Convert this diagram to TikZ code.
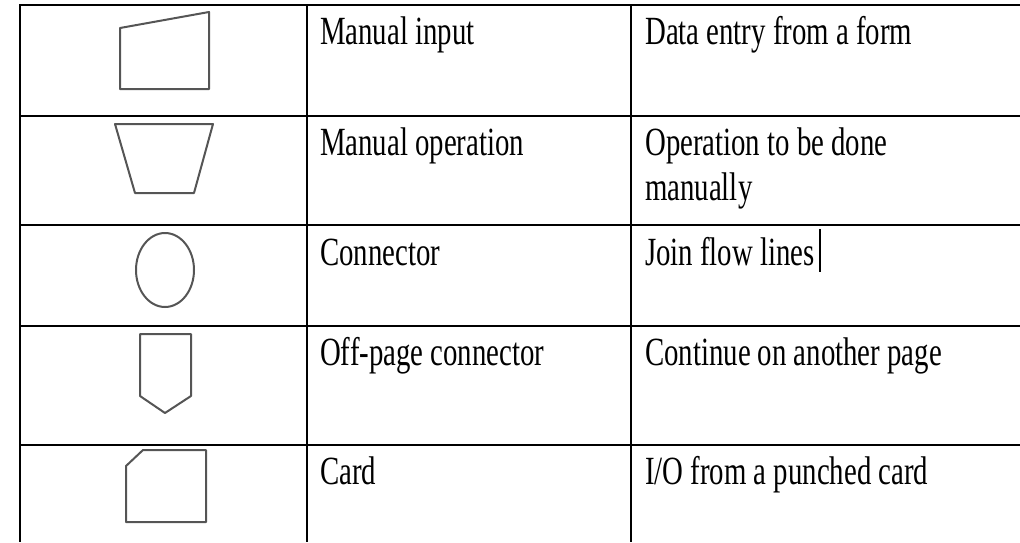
\documentclass[tikz,border=0pt]{standalone}
\usepackage{fontspec}
\setmainfont{Liberation Serif}[FakeStretch=0.72]
\begin{document}
\begin{tikzpicture}[x=1pt,y=-1pt,
  rule/.style={line width=1.8pt,black},
  toprule/.style={line width=2.6pt,black},
  vrule/.style={line width=1.6pt,black},
  symb/.style={line width=2pt,draw={rgb,255:red,85;green,85;blue,85},line join=round},
  cell/.style={anchor=base west,inner sep=0pt,font=\fontsize{40pt}{46pt}\selectfont}]
\useasboundingbox (0,0) rectangle (1020,542);
% table rules
\draw[toprule] (20,5) -- (1020,5);
\draw[rule] (20,116) -- (1020,116);
\draw[rule] (20,225) -- (1020,225);
\draw[rule] (20,326) -- (1020,326);
\draw[rule] (20,445) -- (1020,445);
\draw[vrule] (20,4) -- (20,542);
\draw[vrule] (307,4) -- (307,542);
\draw[vrule] (631,4) -- (631,542);
% symbols
\draw[symb] (120,28) -- (209,12) -- (209,89) -- (120,89) -- cycle;
\draw[symb] (115,124) -- (213,124) -- (194,193) -- (135,193) -- cycle;
\draw[symb] (165,270) ellipse [x radius=29, y radius=37];
\draw[symb] (140,334) -- (191,334) -- (191,396) -- (165,413) -- (140,396) -- cycle;
\draw[symb] (143,450) -- (206,450) -- (206,522) -- (126,522) -- (126,466) -- cycle;
% names
\node[cell] (n1) at (320,44) {Manual input};
\node[cell] (n2) at (320,155) {Manual operation};
\node[cell] (n3) at (320,265) {Connector};
\node[cell] (n4) at (320,365) {Off-page connector};
\node[cell] (n5) at (320,484) {Card};
% descriptions
\node[cell] (d1) at (645,44) {Data entry from a form};
\node[cell] (d2a) at (645,155) {Operation to be done};
\node[cell] (d2b) at (645,200) {manually};
\node[cell] (d3) at (645,265) {Join flow lines};
\node[cell] (d4) at (645,365) {Continue on another page};
\node[cell] (d5) at (645,484) {I/O from a punched card};
% text cursor
\draw[line width=1.2pt] (820,229) -- (820,272);
\end{tikzpicture}
\end{document}
